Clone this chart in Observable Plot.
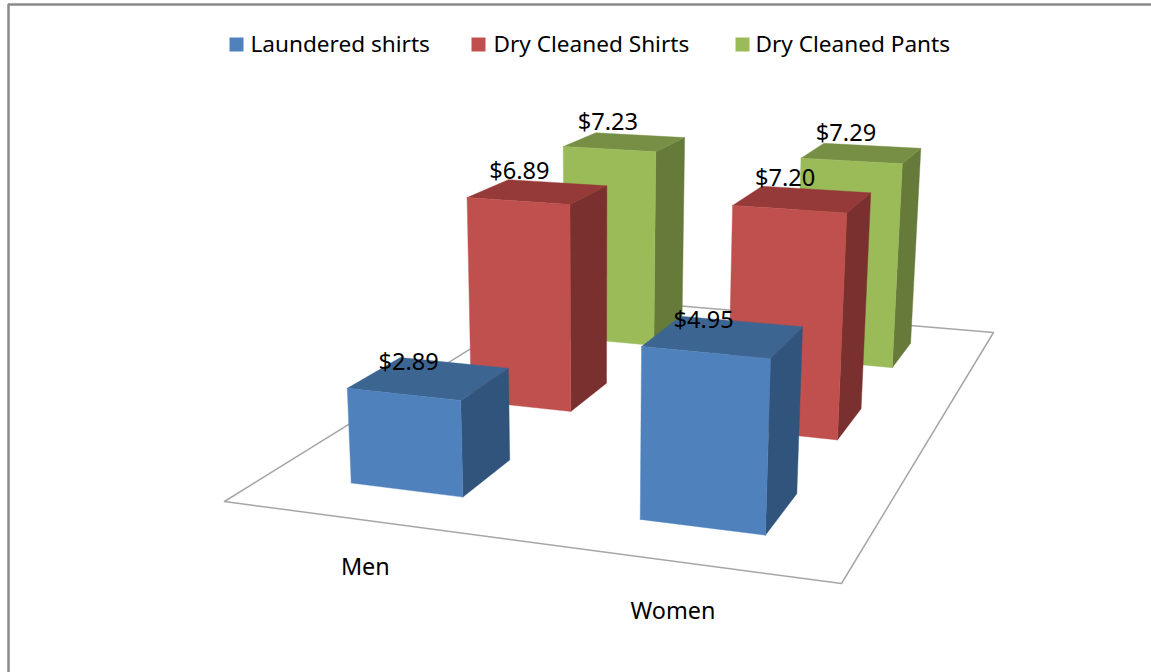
<!DOCTYPE html>
<html>
<head>
<meta charset="utf-8">
<script src="https://cdn.jsdelivr.net/npm/d3@7"></script>
<script src="https://cdn.jsdelivr.net/npm/@observablehq/plot@0.6"></script>
<style>
html,body{margin:0;padding:0;background:#fff;overflow:hidden}
svg{display:block}
</style>
</head>
<body>
<div id="chart"></div>
<script>
const categories = ["Men", "Women"];
const seriesNames = ["Laundered shirts", "Dry Cleaned Shirts", "Dry Cleaned Pants"];
const laundered = [2.89, 4.95];
const dryShirts = [6.89, 7.20];
const dryPants = [7.23, 7.29];
const faceColors = ["#4F81BD", "#C0504D", "#9BBB59"];
const topColors = ["#3D6591", "#953A38", "#778F44"];
const sideColors = ["#31547C", "#7A302E", "#667A3A"];
const allValues = [laundered, dryShirts, dryPants];

// Pinhole camera fitted to the picture: floor square (u, v) plus a height axis
const W = 1151, H = 672;
const cam = {a:522.15,b:582.83,c:224,d:16.25,e:-72.92,f:501,g:-0.11278,h:0.45113,vx:595,vy:6350,l:-0.00565};
function project(u, v, z) {
  const k = cam.l * z;
  const w = cam.g*u + cam.h*v + 1 + k;
  return {x:(cam.a*u + cam.b*v + cam.c + k*cam.vx)/w, y:(cam.d*u + cam.e*v + cam.f + k*cam.vy)/w};
}
const barShare = 0.4; // gap width 150% on both floor axes
const uCenter = i => (i + 0.5)/categories.length;
const vCenter = j => (j + 0.5)/seriesNames.length;
const uHalf = barShare/categories.length/2;
const vHalf = barShare/seriesNames.length/2;

const faces = [];
function addFace(id, color, corners) {
  [...corners, corners[0]].forEach(([u,v,z]) => faces.push({id, color, ...project(u,v,z)}));
}
// painter's order: deepest series first
[2,1,0].forEach(j => categories.forEach((cat,i) => {
  const z = allValues[j][i];
  const u0 = uCenter(i)-uHalf, u1 = uCenter(i)+uHalf, v0 = vCenter(j)-vHalf, v1 = vCenter(j)+vHalf;
  addFace(`${i}-${j}-side`, sideColors[j], [[u1,v0,0],[u1,v1,0],[u1,v1,z],[u1,v0,z]]);
  addFace(`${i}-${j}-top`, topColors[j], [[u0,v0,z],[u1,v0,z],[u1,v1,z],[u0,v1,z]]);
  addFace(`${i}-${j}-front`, faceColors[j], [[u0,v0,0],[u1,v0,0],[u1,v0,z],[u0,v0,z]]);
}));

const floor = [[0,0],[1,0],[1,1],[0,1],[0,0]].map(([u,v]) => project(u,v,0));

const labelShift = [0.0375, 0.032];
const labelLift = [14, 19, 19];
const valueLabels = [];
seriesNames.forEach((s,j) => categories.forEach((c,i) => {
  const z = allValues[j][i];
  const p = project(uCenter(i) - labelShift[i], vCenter(j), z);
  valueLabels.push({x:p.x, y:p.y - labelLift[j], text:"$"+z.toFixed(2)});
}));
const catDrop = [47, 50];
const catLabels = categories.map((c,i) => {
  const p = project(uCenter(i),0,0);
  return {x:p.x, y:p.y + catDrop[i], text:c};
});
const legendSwatchX = [236, 478, 742];
const legendTextX = [250, 493, 755];
const legendY = 44;
const legend = seriesNames.map((s,j) => ({s, color:faceColors[j], sx:legendSwatchX[j], tx:legendTextX[j], y:legendY}));

const font = "'Noto Sans', sans-serif";
const chart = Plot.plot({
  width:W, height:H, margin:0,
  x:{domain:[0,W],range:[0,W],axis:null},
  y:{domain:[0,H],range:[0,H],axis:null},
  color:{type:"identity"},
  style:{background:"#fff"},
  marks:[
    Plot.ruleX([8],{y1:4,y2:H,stroke:"#8a8a8a",strokeWidth:2.5}),
    Plot.ruleY([4],{x1:8,x2:W,stroke:"#8a8a8a",strokeWidth:2.5}),
    Plot.line(floor,{x:"x",y:"y",fill:"#fff",stroke:"#a6a6a6",strokeWidth:1.5}),
    Plot.line(faces,{x:"x",y:"y",z:"id",fill:"color",stroke:"color",strokeWidth:0.4}),
    Plot.text(valueLabels,{x:"x",y:"y",text:"text",fontFamily:font,fontSize:23.6,fill:"#000"}),
    Plot.text(catLabels,{x:"x",y:"y",text:"text",fontFamily:font,fontSize:23.4,fill:"#000"}),
    Plot.dot(legend,{x:"sx",y:"y",symbol:"square",r:7.9,fill:"color",stroke:"none"}),
    Plot.text(legend,{x:"tx",y:"y",text:"s",textAnchor:"start",fontFamily:font,fontSize:22.6,fill:"#000"})
  ]
});
document.getElementById("chart").append(chart);
</script>
</body>
</html>
